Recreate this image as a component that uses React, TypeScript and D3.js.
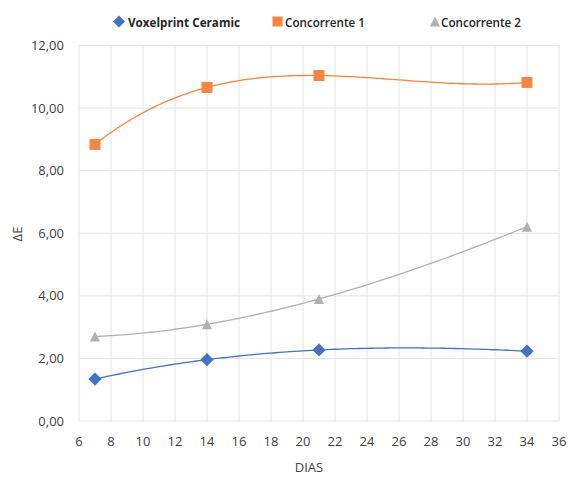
import React from "react";
import * as d3 from "d3";

// Days measured
const days = [7, 14, 21, 34];
// ΔE values per product
const voxelprint = [1.34, 1.96, 2.27, 2.23];
const concorrente1 = [8.84, 10.66, 11.04, 10.82];
const concorrente2 = [2.7, 3.09, 3.9, 6.21];

const xTicks = d3.range(6, 37, 2);
const yTicks = d3.range(0, 13, 2);

const W = 585;
const H = 479;
const M = { left: 79, right: 26, top: 45.5, bottom: 58 };

const x = d3.scaleLinear().domain([6, 36]).range([M.left, W - M.right]);
const y = d3.scaleLinear().domain([0, 12]).range([H - M.bottom, M.top]);

// Least-squares polynomial fit (order 3 trendline)
function polyfit(xs: number[], ys: number[], order: number): number[] {
  const n = order + 1;
  const A: number[][] = Array.from({ length: n }, () => Array(n + 1).fill(0));
  for (let r = 0; r < n; r++) {
    for (let c = 0; c < n; c++) {
      A[r][c] = d3.sum(xs, (v) => Math.pow(v, r + c));
    }
    A[r][n] = d3.sum(xs, (v, i) => Math.pow(v, r) * ys[i]);
  }
  for (let i = 0; i < n; i++) {
    let p = i;
    for (let k = i + 1; k < n; k++) if (Math.abs(A[k][i]) > Math.abs(A[p][i])) p = k;
    [A[i], A[p]] = [A[p], A[i]];
    for (let k = i + 1; k < n; k++) {
      const f = A[k][i] / A[i][i];
      for (let j = i; j <= n; j++) A[k][j] -= f * A[i][j];
    }
  }
  const coef = Array(n).fill(0);
  for (let i = n - 1; i >= 0; i--) {
    let s = A[i][n];
    for (let j = i + 1; j < n; j++) s -= A[i][j] * coef[j];
    coef[i] = s / A[i][i];
  }
  return coef;
}

function trendPath(ys: number[]): string {
  const c = polyfit(days, ys, 3);
  const f = (v: number) => c.reduce((s, k, i) => s + k * Math.pow(v, i), 0);
  const xs = d3.range(days[0], days[days.length - 1] + 0.001, 0.25);
  return d3.line<number>().x((v) => x(v)).y((v) => y(f(v)))(xs) || "";
}

const series = [
  { name: "Voxelprint Ceramic", values: voxelprint, color: "#4472C4", shape: "diamond" },
  { name: "Concorrente 1", values: concorrente1, color: "#F58540", shape: "square" },
  { name: "Concorrente 2", values: concorrente2, color: "#B0B0B0", shape: "triangle" },
];

function Marker({ shape, cx, cy, color, s }: { shape: string; cx: number; cy: number; color: string; s: number }) {
  if (shape === "diamond") {
    const r = s * 0.6;
    return <path d={`M${cx},${cy - r}L${cx + r},${cy}L${cx},${cy + r}L${cx - r},${cy}Z`} fill={color} />;
  }
  if (shape === "square") {
    const r = s / 2;
    return <rect x={cx - r} y={cy - r} width={s} height={s} fill={color} />;
  }
  const r = s / 2;
  return <path d={`M${cx},${cy - r}L${cx + r},${cy + r}L${cx - r},${cy + r}Z`} fill={color} />;
}

const font = "'Open Sans', 'Noto Sans', sans-serif";
const textColor = "#404040";

export default function App() {
  const legend = [
    { x: 119, tx: 128, len: 112, weight: 700 },
    { x: 277.5, tx: 285, len: 80, weight: 600 },
    { x: 435, tx: 441, len: 80, weight: 600 },
  ];
  return (
    <svg width={W} height={H} style={{ position: "absolute", left: 0, top: 0, background: "#fff" }}>
      {/* grid */}
      {xTicks.map((t) => (
        <line key={"gx" + t} x1={x(t)} x2={x(t)} y1={y(0)} y2={y(12)} stroke="#E3E3E3" strokeWidth={1} />
      ))}
      {yTicks.map((t) => (
        <line key={"gy" + t} x1={x(6)} x2={x(36)} y1={y(t)} y2={y(t)} stroke="#E3E3E3" strokeWidth={1} />
      ))}
      {/* tick labels */}
      {yTicks.map((t) => (
        <text key={"ty" + t} x={64} y={y(t)} dy="0.35em" textAnchor="end" fontFamily={font} fontSize={13} fill={textColor}>
          {t.toFixed(2).replace(".", ",")}
        </text>
      ))}
      {xTicks.map((t) => (
        <text key={"tx" + t} x={x(t)} y={y(0) + 20} dy="0.35em" textAnchor="middle" fontFamily={font} fontSize={13} fill={textColor}>
          {t}
        </text>
      ))}
      <text x={309} y={472} textAnchor="middle" fontFamily={font} fontSize={13} fill={textColor}>
        DIAS
      </text>
      <text transform={`translate(22,234) rotate(-90)`} textAnchor="middle" fontFamily={font} fontSize={13} fill={textColor}>
        ΔE
      </text>
      {/* trendlines */}
      {series.map((s) => (
        <path key={"l" + s.name} d={trendPath(s.values)} fill="none" stroke={s.color} strokeWidth={1.3} />
      ))}
      {/* markers */}
      {series.map((s) =>
        s.values.map((v, i) => (
          <Marker key={s.name + i} shape={s.shape} cx={x(days[i])} cy={y(v)} color={s.color} s={s.shape === "square" ? 11 : s.shape === "triangle" ? 10 : 11} />
        ))
      )}
      {/* legend */}
      {series.map((s, i) => (
        <g key={"lg" + s.name}>
          <Marker shape={s.shape} cx={legend[i].x} cy={21.5} color={s.color} s={s.shape === "diamond" ? 10 : 10} />
          <text
            x={legend[i].tx}
            y={22}
            dy="0.35em"
            fontFamily={font}
            fontSize={13}
            fontWeight={legend[i].weight}
            fill="#262626"
            textLength={legend[i].len}
            lengthAdjust="spacingAndGlyphs"
          >
            {s.name}
          </text>
        </g>
      ))}
    </svg>
  );
}
